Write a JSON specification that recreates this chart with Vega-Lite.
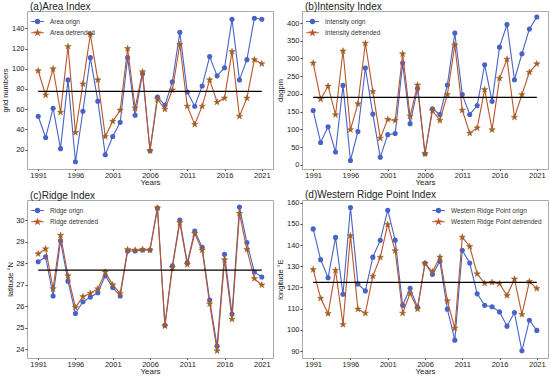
{
  "$schema": "https://vega.github.io/schema/vega-lite/v6.json",
  "padding": {"left": 1, "top": 1, "right": 2, "bottom": 0},
  "background": "white",
  "datasets": {
    "idx": [
      {"year":1991,"a_o":53,"a_d":98,"b_o":153,"b_d":287,"c_o":28.06,"c_d":28.43,"d_o":147.6,"d_d":128.4},
      {"year":1992,"a_o":32,"a_d":74,"b_o":63,"b_d":185,"c_o":28.29,"c_d":28.66,"d_o":133.1,"d_d":114.9},
      {"year":1993,"a_o":61,"a_d":100,"b_o":107,"b_d":222,"c_o":26.47,"c_d":26.81,"d_o":124.6,"d_d":107.7},
      {"year":1994,"a_o":21,"a_d":57,"b_o":36,"b_d":141,"c_o":29.03,"c_d":29.29,"d_o":143.6,"d_d":128.1},
      {"year":1995,"a_o":89,"a_d":122,"b_o":224,"b_d":321,"c_o":27.16,"c_d":27.41,"d_o":116.8,"d_d":102.6},
      {"year":1996,"a_o":8,"a_d":37,"b_o":12,"b_d":99,"c_o":25.66,"c_d":25.94,"d_o":157.7,"d_d":144.4},
      {"year":1997,"a_o":58,"a_d":85,"b_o":94,"b_d":172,"c_o":26.2,"c_d":26.44,"d_o":121.7,"d_d":109.8},
      {"year":1998,"a_o":111,"a_d":134,"b_o":273,"b_d":343,"c_o":26.42,"c_d":26.6,"d_o":118.4,"d_d":107.9},
      {"year":1999,"a_o":68,"a_d":89,"b_o":143,"b_d":207,"c_o":26.62,"c_d":26.8,"d_o":134.3,"d_d":125.3},
      {"year":2000,"a_o":15,"a_d":33,"b_o":21,"b_d":75,"c_o":27.41,"c_d":27.58,"d_o":142.2,"d_d":134.2},
      {"year":2001,"a_o":33,"a_d":48,"b_o":85,"b_d":128,"c_o":26.87,"c_d":26.99,"d_o":156.4,"d_d":149.7},
      {"year":2002,"a_o":47,"a_d":59,"b_o":88,"b_d":125,"c_o":26.47,"c_d":26.59,"d_o":142.3,"d_d":137.3},
      {"year":2003,"a_o":111,"a_d":120,"b_o":287,"b_d":313,"c_o":28.56,"c_d":28.63,"d_o":111.6,"d_d":107.9},
      {"year":2004,"a_o":54,"a_d":61,"b_o":116,"b_d":137,"c_o":28.56,"c_d":28.6,"d_o":119.6,"d_d":117.3},
      {"year":2005,"a_o":95,"a_d":97,"b_o":215,"b_d":225,"c_o":28.61,"c_d":28.63,"d_o":110.7,"d_d":109.9},
      {"year":2006,"a_o":19,"a_d":19,"b_o":31,"b_d":31,"c_o":28.61,"c_d":28.61,"d_o":131.4,"d_d":131.4},
      {"year":2007,"a_o":72,"a_d":70,"b_o":158,"b_d":153,"c_o":30.56,"c_d":30.56,"d_o":126.2,"d_d":127.4},
      {"year":2008,"a_o":64,"a_d":60,"b_o":142,"b_d":125,"c_o":25.11,"c_d":25.08,"d_o":132.3,"d_d":134.3},
      {"year":2009,"a_o":87,"a_d":79,"b_o":225,"b_d":198,"c_o":27.87,"c_d":27.79,"d_o":109.8,"d_d":113.7},
      {"year":2010,"a_o":136,"a_d":124,"b_o":372,"b_d":338,"c_o":30.0,"c_d":29.88,"d_o":95.2,"d_d":100.8},
      {"year":2011,"a_o":77,"a_d":63,"b_o":198,"b_d":154,"c_o":28.02,"c_d":27.93,"d_o":137.5,"d_d":143.7},
      {"year":2012,"a_o":63,"a_d":45,"b_o":142,"b_d":89,"c_o":29.49,"c_d":29.37,"d_o":131.5,"d_d":139.3},
      {"year":2013,"a_o":83,"a_d":63,"b_o":167,"b_d":104,"c_o":28.73,"c_d":28.6,"d_o":117.0,"d_d":126.4},
      {"year":2014,"a_o":112,"a_d":89,"b_o":282,"b_d":212,"c_o":26.28,"c_d":26.11,"d_o":111.6,"d_d":122.0},
      {"year":2015,"a_o":93,"a_d":67,"b_o":179,"b_d":99,"c_o":24.14,"c_d":23.92,"d_o":110.9,"d_d":122.4},
      {"year":2016,"a_o":101,"a_d":71,"b_o":332,"b_d":244,"c_o":28.41,"c_d":28.15,"d_o":108.5,"d_d":121.8},
      {"year":2017,"a_o":149,"a_d":117,"b_o":396,"b_d":298,"c_o":25.63,"c_d":25.39,"d_o":101.8,"d_d":116.2},
      {"year":2018,"a_o":89,"a_d":53,"b_o":240,"b_d":134,"c_o":30.6,"c_d":30.31,"d_o":108.2,"d_d":124.0},
      {"year":2019,"a_o":109,"a_d":71,"b_o":313,"b_d":198,"c_o":28.95,"c_d":28.63,"d_o":90.2,"d_d":107.3},
      {"year":2020,"a_o":150,"a_d":109,"b_o":383,"b_d":261,"c_o":27.58,"c_d":27.28,"d_o":104.6,"d_d":122.8},
      {"year":2021,"a_o":149,"a_d":105,"b_o":417,"b_d":285,"c_o":27.35,"c_d":26.98,"d_o":99.8,"d_d":119.5}
    ]
  },
  "columns": 2,
  "spacing": {"row": 31, "column": 29},
  "bounds": "flush",
  "resolve": {"scale": {"x": "independent", "y": "independent", "color": "independent"}, "legend": {"color": "independent"}},
  "concat": [
    {
      "width": 246, "height": 158,
      "title": {"text": "(a)Area Index"},
      "data": {"name": "idx"},
      "layer": [
        {"mark": {"type": "line", "strokeWidth": 1.1},
         "encoding": {
           "x": {"field": "year", "type": "quantitative", "scale": {"domain": [1989.5, 2022.5], "nice": false, "zero": false}, "axis": {"values": [1991,1996,2001,2006,2011,2016,2021], "tickCount": 20, "format": "d", "title": "Years", "labelOverlap": false}},
           "y": {"field": "a_o", "type": "quantitative", "scale": {"domain": [0.9, 157.1], "nice": false, "zero": false}, "axis": {"values": [20,40,60,80,100,120,140], "tickCount": 20, "format": "d", "title": "grid numbers", "labelOverlap": false}},
           "color": {"datum": "Area orign", "scale": {"domain": ["Area orign", "Area detrended"], "range": ["#4863c6", "#b9552a"]},
             "legend": {"title": null, "orient": "top-left", "encode": {"symbols": {"update": {
               "shape": {"signal": "indexof(datum.value,'orign')>=0 ? 'M-1.8,0L1.8,0M0.6,0A0.6,0.6,0,1,1,-0.6,0A0.6,0.6,0,1,1,0.6,0Z' : 'M-1.8,0L1.8,0M0,-0.75L0.169,-0.232L0.713,-0.232L0.272,0.089L0.441,0.607L0,0.287L-0.441,0.607L-0.272,0.089L-0.713,-0.232L-0.169,-0.232Z'"},
               "fill": {"signal": "indexof(datum.value,'orign')>=0 ? '#4863c6' : '#8a6a1c'"},
               "stroke": {"signal": "indexof(datum.value,'orign')>=0 ? '#4863c6' : '#b9552a'"},
               "strokeWidth": {"value": 1.1}, "opacity": {"value": 1}, "fillOpacity": {"value": 1}, "strokeOpacity": {"value": 1}}}}}}
         }},
        {"mark": {"type": "point", "filled": true, "size": 26, "color": "#4863c6", "opacity": 1},
         "encoding": {"x": {"field": "year", "type": "quantitative"}, "y": {"field": "a_o", "type": "quantitative"}}},
        {"mark": {"type": "line", "strokeWidth": 1.1},
         "encoding": {"x": {"field": "year", "type": "quantitative"}, "y": {"field": "a_d", "type": "quantitative"}, "color": {"datum": "Area detrended"}}},
        {"mark": {"type": "point", "filled": true, "size": 45, "shape": "M0,-1L0.225,-0.309L0.951,-0.309L0.363,0.118L0.588,0.809L0,0.382L-0.588,0.809L-0.363,0.118L-0.951,-0.309L-0.225,-0.309Z", "color": "#8a6a1c", "stroke": "#b9552a", "strokeWidth": 0.5, "opacity": 1},
         "encoding": {"x": {"field": "year", "type": "quantitative"}, "y": {"field": "a_d", "type": "quantitative"}}},
        {"data": {"values": [{"m": 77.7}]}, "mark": {"type": "rule", "color": "black", "strokeWidth": 1.3},
         "encoding": {"y": {"field": "m", "type": "quantitative"}, "x": {"datum": 1991}, "x2": {"datum": 2021}}}
      ]
    },
    {
      "width": 246, "height": 158,
      "title": {"text": "(b)Intensity Index"},
      "data": {"name": "idx"},
      "layer": [
        {"mark": {"type": "line", "strokeWidth": 1.1},
         "encoding": {
           "x": {"field": "year", "type": "quantitative", "scale": {"domain": [1989.5, 2022.5], "nice": false, "zero": false}, "axis": {"values": [1991,1996,2001,2006,2011,2016,2021], "tickCount": 20, "format": "d", "title": "Years", "labelOverlap": false}},
           "y": {"field": "b_o", "type": "quantitative", "scale": {"domain": [-12, 434], "nice": false, "zero": false}, "axis": {"values": [0,50,100,150,200,250,300,350,400], "tickCount": 20, "format": "d", "title": "dagpm", "labelOverlap": false}},
           "color": {"datum": "Intensity orign", "scale": {"domain": ["Intensity orign", "Intensity detrended"], "range": ["#4863c6", "#b9552a"]},
             "legend": {"title": null, "orient": "top-left", "encode": {"symbols": {"update": {
               "shape": {"signal": "indexof(datum.value,'orign')>=0 ? 'M-1.8,0L1.8,0M0.6,0A0.6,0.6,0,1,1,-0.6,0A0.6,0.6,0,1,1,0.6,0Z' : 'M-1.8,0L1.8,0M0,-0.75L0.169,-0.232L0.713,-0.232L0.272,0.089L0.441,0.607L0,0.287L-0.441,0.607L-0.272,0.089L-0.713,-0.232L-0.169,-0.232Z'"},
               "fill": {"signal": "indexof(datum.value,'orign')>=0 ? '#4863c6' : '#8a6a1c'"},
               "stroke": {"signal": "indexof(datum.value,'orign')>=0 ? '#4863c6' : '#b9552a'"},
               "strokeWidth": {"value": 1.1}, "opacity": {"value": 1}, "fillOpacity": {"value": 1}, "strokeOpacity": {"value": 1}}}}}}
         }},
        {"mark": {"type": "point", "filled": true, "size": 26, "color": "#4863c6", "opacity": 1},
         "encoding": {"x": {"field": "year", "type": "quantitative"}, "y": {"field": "b_o", "type": "quantitative"}}},
        {"mark": {"type": "line", "strokeWidth": 1.1},
         "encoding": {"x": {"field": "year", "type": "quantitative"}, "y": {"field": "b_d", "type": "quantitative"}, "color": {"datum": "Intensity detrended"}}},
        {"mark": {"type": "point", "filled": true, "size": 45, "shape": "M0,-1L0.225,-0.309L0.951,-0.309L0.363,0.118L0.588,0.809L0,0.382L-0.588,0.809L-0.363,0.118L-0.951,-0.309L-0.225,-0.309Z", "color": "#8a6a1c", "stroke": "#b9552a", "strokeWidth": 0.5, "opacity": 1},
         "encoding": {"x": {"field": "year", "type": "quantitative"}, "y": {"field": "b_d", "type": "quantitative"}}},
        {"data": {"values": [{"m": 190}]}, "mark": {"type": "rule", "color": "black", "strokeWidth": 1.3},
         "encoding": {"y": {"field": "m", "type": "quantitative"}, "x": {"datum": 1991}, "x2": {"datum": 2021}}}
      ]
    },
    {
      "width": 246, "height": 158,
      "title": {"text": "(c)Ridge Index"},
      "data": {"name": "idx"},
      "layer": [
        {"mark": {"type": "line", "strokeWidth": 1.1},
         "encoding": {
           "x": {"field": "year", "type": "quantitative", "scale": {"domain": [1989.5, 2022.5], "nice": false, "zero": false}, "axis": {"values": [1991,1996,2001,2006,2011,2016,2021], "tickCount": 20, "format": "d", "title": "Years", "labelOverlap": false}},
           "y": {"field": "c_o", "type": "quantitative", "scale": {"domain": [23.59, 30.93], "nice": false, "zero": false}, "axis": {"values": [24,25,26,27,28,29,30], "tickCount": 20, "format": "d", "title": "latitude °N", "labelOverlap": false}},
           "color": {"datum": "Ridge orign", "scale": {"domain": ["Ridge orign", "Ridge detrended"], "range": ["#4863c6", "#b9552a"]},
             "legend": {"title": null, "orient": "top-left", "encode": {"symbols": {"update": {
               "shape": {"signal": "indexof(datum.value,'orign')>=0 ? 'M-1.8,0L1.8,0M0.6,0A0.6,0.6,0,1,1,-0.6,0A0.6,0.6,0,1,1,0.6,0Z' : 'M-1.8,0L1.8,0M0,-0.75L0.169,-0.232L0.713,-0.232L0.272,0.089L0.441,0.607L0,0.287L-0.441,0.607L-0.272,0.089L-0.713,-0.232L-0.169,-0.232Z'"},
               "fill": {"signal": "indexof(datum.value,'orign')>=0 ? '#4863c6' : '#8a6a1c'"},
               "stroke": {"signal": "indexof(datum.value,'orign')>=0 ? '#4863c6' : '#b9552a'"},
               "strokeWidth": {"value": 1.1}, "opacity": {"value": 1}, "fillOpacity": {"value": 1}, "strokeOpacity": {"value": 1}}}}}}
         }},
        {"mark": {"type": "point", "filled": true, "size": 26, "color": "#4863c6", "opacity": 1},
         "encoding": {"x": {"field": "year", "type": "quantitative"}, "y": {"field": "c_o", "type": "quantitative"}}},
        {"mark": {"type": "line", "strokeWidth": 1.1},
         "encoding": {"x": {"field": "year", "type": "quantitative"}, "y": {"field": "c_d", "type": "quantitative"}, "color": {"datum": "Ridge detrended"}}},
        {"mark": {"type": "point", "filled": true, "size": 45, "shape": "M0,-1L0.225,-0.309L0.951,-0.309L0.363,0.118L0.588,0.809L0,0.382L-0.588,0.809L-0.363,0.118L-0.951,-0.309L-0.225,-0.309Z", "color": "#8a6a1c", "stroke": "#b9552a", "strokeWidth": 0.5, "opacity": 1},
         "encoding": {"x": {"field": "year", "type": "quantitative"}, "y": {"field": "c_d", "type": "quantitative"}}},
        {"data": {"values": [{"m": 27.67}]}, "mark": {"type": "rule", "color": "black", "strokeWidth": 1.3},
         "encoding": {"y": {"field": "m", "type": "quantitative"}, "x": {"datum": 1991}, "x2": {"datum": 2021}}}
      ]
    },
    {
      "width": 246, "height": 158,
      "title": {"text": "(d)Western Ridge Point Index"},
      "data": {"name": "idx"},
      "layer": [
        {"mark": {"type": "line", "strokeWidth": 1.1},
         "encoding": {
           "x": {"field": "year", "type": "quantitative", "scale": {"domain": [1989.5, 2022.5], "nice": false, "zero": false}, "axis": {"values": [1991,1996,2001,2006,2011,2016,2021], "tickCount": 20, "format": "d", "title": "Years", "labelOverlap": false}},
           "y": {"field": "d_o", "type": "quantitative", "scale": {"domain": [86.8, 161.2], "nice": false, "zero": false}, "axis": {"values": [90,100,110,120,130,140,150,160], "tickCount": 20, "format": "d", "title": "longitude °E", "labelOverlap": false}},
           "color": {"datum": "Western Ridge Point orign", "scale": {"domain": ["Western Ridge Point orign", "Western Ridge Point detrended"], "range": ["#4863c6", "#b9552a"]},
             "legend": {"title": null, "orient": "top-right", "encode": {"symbols": {"update": {
               "shape": {"signal": "indexof(datum.value,'orign')>=0 ? 'M-1.8,0L1.8,0M0.6,0A0.6,0.6,0,1,1,-0.6,0A0.6,0.6,0,1,1,0.6,0Z' : 'M-1.8,0L1.8,0M0,-0.75L0.169,-0.232L0.713,-0.232L0.272,0.089L0.441,0.607L0,0.287L-0.441,0.607L-0.272,0.089L-0.713,-0.232L-0.169,-0.232Z'"},
               "fill": {"signal": "indexof(datum.value,'orign')>=0 ? '#4863c6' : '#8a6a1c'"},
               "stroke": {"signal": "indexof(datum.value,'orign')>=0 ? '#4863c6' : '#b9552a'"},
               "strokeWidth": {"value": 1.1}, "opacity": {"value": 1}, "fillOpacity": {"value": 1}, "strokeOpacity": {"value": 1}}}}}}
         }},
        {"mark": {"type": "point", "filled": true, "size": 26, "color": "#4863c6", "opacity": 1},
         "encoding": {"x": {"field": "year", "type": "quantitative"}, "y": {"field": "d_o", "type": "quantitative"}}},
        {"mark": {"type": "line", "strokeWidth": 1.1},
         "encoding": {"x": {"field": "year", "type": "quantitative"}, "y": {"field": "d_d", "type": "quantitative"}, "color": {"datum": "Western Ridge Point detrended"}}},
        {"mark": {"type": "point", "filled": true, "size": 45, "shape": "M0,-1L0.225,-0.309L0.951,-0.309L0.363,0.118L0.588,0.809L0,0.382L-0.588,0.809L-0.363,0.118L-0.951,-0.309L-0.225,-0.309Z", "color": "#8a6a1c", "stroke": "#b9552a", "strokeWidth": 0.5, "opacity": 1},
         "encoding": {"x": {"field": "year", "type": "quantitative"}, "y": {"field": "d_d", "type": "quantitative"}}},
        {"data": {"values": [{"m": 122.4}]}, "mark": {"type": "rule", "color": "black", "strokeWidth": 1.3},
         "encoding": {"y": {"field": "m", "type": "quantitative"}, "x": {"datum": 1991}, "x2": {"datum": 2021}}}
      ]
    }
  ],
  "config": {
    "font": "Liberation Sans",
    "view": {"stroke": "#aaaaaa", "strokeWidth": 1},
    "axis": {"grid": false, "domain": false, "tickSize": 2, "tickColor": "#444444", "labelFont": "Liberation Sans", "labelFontSize": 7.5, "labelColor": "#222222", "labelPadding": 1, "labelOverlap": false, "titleFontWeight": "normal", "titleColor": "#222222", "titlePadding": 0},
    "axisX": {"titleFont": "Liberation Sans", "titleFontSize": 8, "labelPadding": 0.5, "tickSize": 1.5},
    "axisY": {"titleFont": "Liberation Sans", "titleFontSize": 7.5, "titlePadding": 1.5},
    "title": {"font": "Liberation Sans", "fontSize": 10, "fontWeight": "normal", "anchor": "start", "frame": "group", "offset": -1, "dx": 3, "color": "#222222"},
    "legend": {"padding": 0, "offset": 6, "labelFont": "Liberation Sans", "labelFontSize": 6.5, "labelColor": "#333333", "symbolSize": 49, "labelOffset": 8, "rowPadding": 1.3}
  }
}
